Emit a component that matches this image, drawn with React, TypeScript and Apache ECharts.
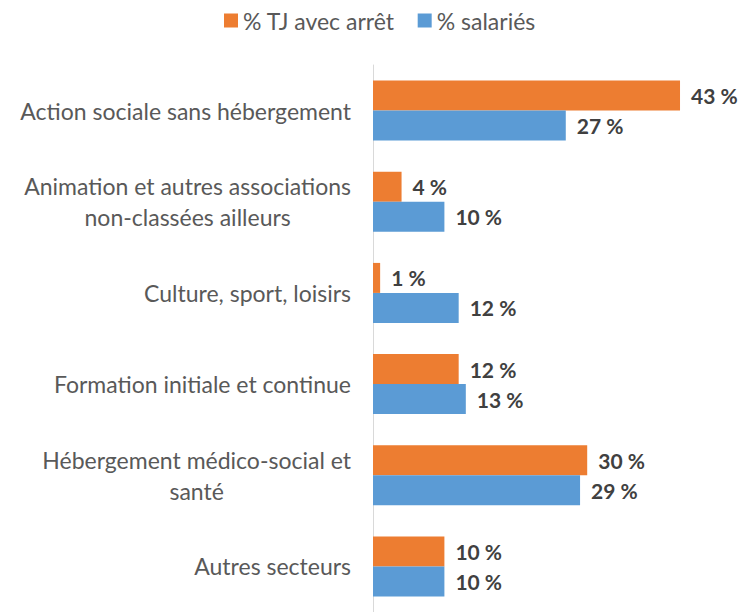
import React, { useEffect, useRef } from "react";
import * as echarts from "echarts";

const categories = [
  "Action sociale sans hébergement",
  "Animation et autres associations\nnon-classées ailleurs",
  "Culture, sport, loisirs",
  "Formation initiale et continue",
  "Hébergement médico-social et\nsanté",
  "Autres secteurs",
];
const seriesNames = ["% TJ avec arrêt", "% salariés"];
const tjAvecArret = [43, 4, 1, 12, 30, 10];
const salaries = [27, 10, 12, 13, 29, 10];

const FONT = "Lato, 'Open Sans', sans-serif";

export default function App() {
  const ref = useRef<HTMLDivElement>(null);
  useEffect(() => {
    if (!ref.current) return;
    const chart = echarts.init(ref.current, null, { renderer: "svg" });
    const labelCfg = {
      show: true,
      position: "right" as const,
      distance: 11,
      formatter: (p: any) => `${p.value} %`,
      color: "#404040",
      fontWeight: "bold" as const,
      fontSize: 21,
      fontFamily: FONT,
    };
    chart.setOption({
      animation: false,
      backgroundColor: "#ffffff",
      legend: {
        top: 4,
        left: 219,
        itemWidth: 14,
        itemHeight: 14,
        itemGap: 23,
        icon: "rect",
        textStyle: { color: "#595959", fontSize: 23, fontFamily: FONT },
        data: seriesNames,
      },
      grid: { left: 373, top: 65, width: 357, height: 554 },
      xAxis: {
        type: "value",
        min: 0,
        max: 50,
        show: false,
        splitLine: { show: false },
      },
      yAxis: {
        type: "category",
        inverse: true,
        data: categories,
        axisLine: { show: true, lineStyle: { color: "#d9d9d9", width: 1 } },
        axisTick: { show: false },
        axisLabel: {
          margin: 22,
          fontFamily: FONT,
          fontSize: 23,
          color: "#595959",
          lineHeight: 31,
          formatter: (v: string) =>
            v
              .split("\n")
              .map((l) => `{c|${l}}`)
              .join("\n"),
          rich: {
            c: {
              align: "center",
              fontFamily: FONT,
              fontSize: 23,
              color: "#595959",
              lineHeight: 31,
            },
          },
        },
      },
      series: [
        {
          name: seriesNames[0],
          type: "bar",
          data: tjAvecArret,
          barWidth: 30,
          barGap: "0%",
          itemStyle: { color: "#ED7D31" },
          label: labelCfg,
        },
        {
          name: seriesNames[1],
          type: "bar",
          data: salaries,
          barWidth: 30,
          barGap: "0%",
          itemStyle: { color: "#5B9BD5" },
          label: labelCfg,
        },
      ],
    });
    return () => chart.dispose();
  }, []);
  return (
    <div
      ref={ref}
      style={{ position: "absolute", left: 0, top: 0, width: 743, height: 612 }}
    />
  );
}
